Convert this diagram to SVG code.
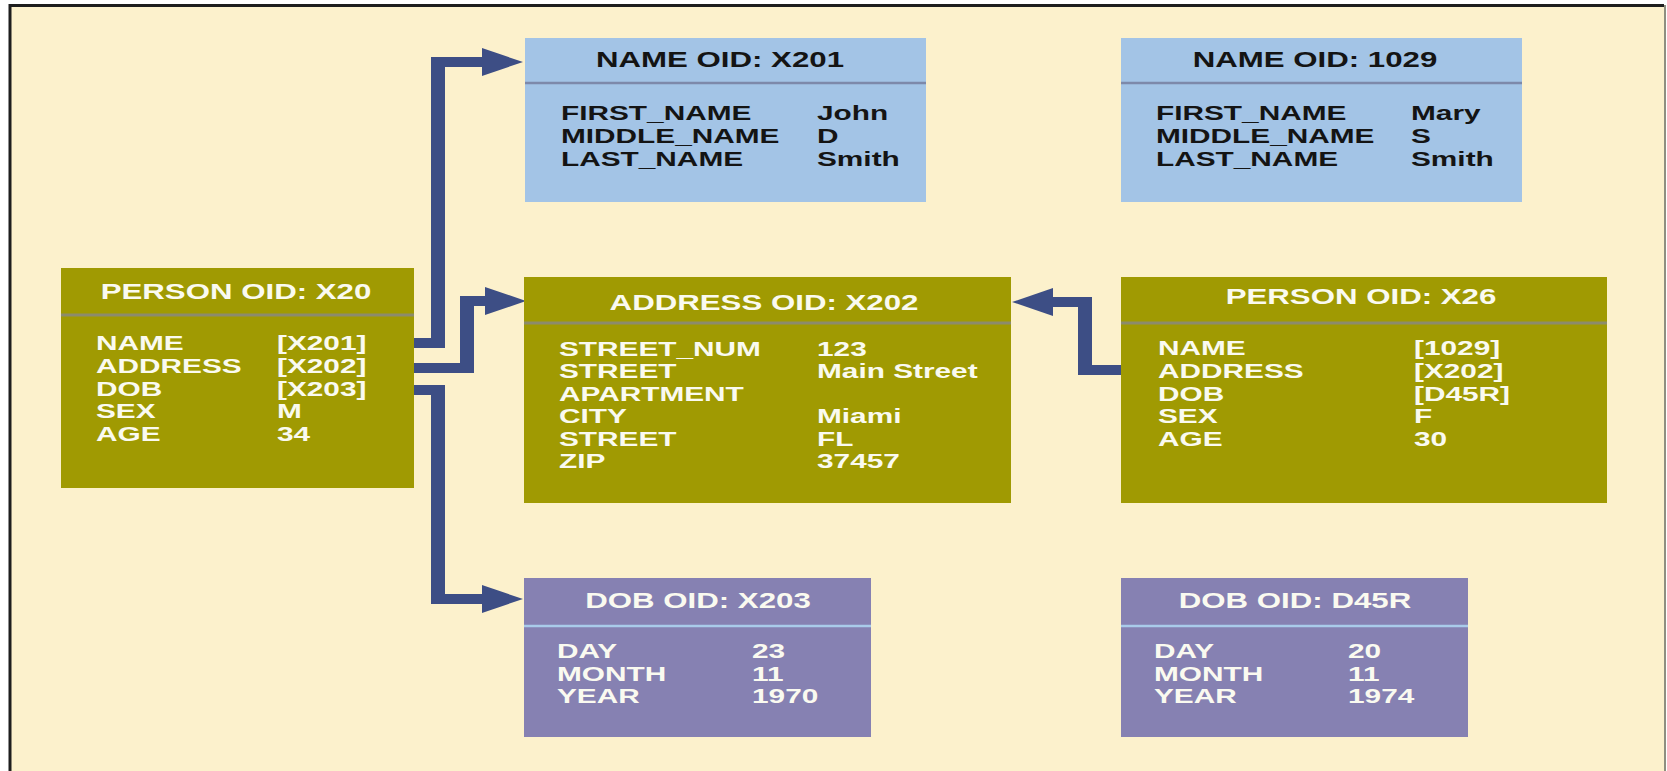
<svg xmlns="http://www.w3.org/2000/svg" width="1667" height="771" viewBox="0 0 1667 771">
  <style>
    .panel { fill: #FCF1CC; }
    .edge-dark { stroke: #1E1E1E; stroke-width: 3; fill: none; }
    .edge-light { stroke: #8F8F80; stroke-width: 2; fill: none; }
    .box-name { fill: #A3C4E6; }
    .box-person { fill: #A09A02; }
    .box-dob { fill: #8681B2; }
    .sep-name { stroke: #7D89AA; stroke-width: 2.5; }
    .sep-person { stroke: #8C8B6C; stroke-width: 3; }
    .sep-dob { stroke: #A9CBEA; stroke-width: 2.5; }
    text { font-family: "Liberation Sans", Arial, sans-serif; font-weight: bold; }
    .title { font-size: 22px; text-anchor: middle; }
    .row { font-size: 21px; }
    .dark { fill: #141414; }
    .light { fill: #FAFAF0; }
    .link { fill: #3D4E85; }
  </style>
  <defs>
    <path id="head-right" d="M0,-14 L41,0 L0,14 Z"/>
    <path id="head-left" d="M0,-14 L-41,0 L0,14 Z"/>
  </defs>

  <!-- page frame -->
  <rect x="0" y="0" width="1667" height="771" fill="#FFFFFF"/>
  <rect class="panel" x="10" y="5" width="1655" height="770"/>
  <path class="edge-dark" d="M10,775 V5.5 H1664"/>
  <line class="edge-light" x1="1665" y1="5" x2="1665" y2="771"/>

  <!-- connectors -->
  <g id="connectors">
    <g id="x20-name-to-x201">
      <path class="link" d="M414,338 H431 V57 H484 V67 H445 V348 H414 Z"/>
      <use class="link" href="#head-right" x="482" y="62"/>
    </g>
    <g id="x20-address-to-x202">
      <path class="link" d="M414,363 H460 V296 H488 V306 H474 V373 H414 Z"/>
      <use class="link" href="#head-right" x="485" y="301"/>
    </g>
    <g id="x20-dob-to-x203">
      <path class="link" d="M414,385 H445 V594 H485 V604 H431 V395 H414 Z"/>
      <use class="link" href="#head-right" x="482" y="599"/>
    </g>
    <g id="x26-address-to-x202">
      <path class="link" d="M1121,365 H1092 V297 H1050 V307 H1078 V375 H1121 Z"/>
      <use class="link" href="#head-left" x="1053" y="302"/>
    </g>
  </g>

  <!-- NAME OID: X201 -->
  <g id="name-x201">
    <rect class="box-name" x="525" y="38" width="401" height="164"/>
    <line class="sep-name" x1="525" y1="83" x2="926" y2="83"/>
    <text class="title dark" transform="matrix(1.42 0 0 1 720 67)">NAME OID: X201</text>
    <g class="row dark">
      <text transform="matrix(1.42 0 0 1 561 120)">FIRST_NAME</text>
      <text transform="matrix(1.42 0 0 1 817 120)">John</text>
      <text transform="matrix(1.42 0 0 1 561 143)">MIDDLE_NAME</text>
      <text transform="matrix(1.42 0 0 1 817 143)">D</text>
      <text transform="matrix(1.42 0 0 1 561 166)">LAST_NAME</text>
      <text transform="matrix(1.42 0 0 1 817 166)">Smith</text>
    </g>
  </g>

  <!-- NAME OID: 1029 -->
  <g id="name-1029">
    <rect class="box-name" x="1121" y="38" width="401" height="164"/>
    <line class="sep-name" x1="1121" y1="83" x2="1522" y2="83"/>
    <text class="title dark" transform="matrix(1.42 0 0 1 1315 67)">NAME OID: 1029</text>
    <g class="row dark">
      <text transform="matrix(1.42 0 0 1 1156 120)">FIRST_NAME</text>
      <text transform="matrix(1.42 0 0 1 1411 120)">Mary</text>
      <text transform="matrix(1.42 0 0 1 1156 143)">MIDDLE_NAME</text>
      <text transform="matrix(1.42 0 0 1 1411 143)">S</text>
      <text transform="matrix(1.42 0 0 1 1156 166)">LAST_NAME</text>
      <text transform="matrix(1.42 0 0 1 1411 166)">Smith</text>
    </g>
  </g>

  <!-- PERSON OID: X20 -->
  <g id="person-x20">
    <rect class="box-person" x="61" y="268" width="353" height="220"/>
    <line class="sep-person" x1="61" y1="315" x2="414" y2="315"/>
    <text class="title light" transform="matrix(1.42 0 0 1 236 299)">PERSON OID: X20</text>
    <g class="row light">
      <text transform="matrix(1.42 0 0 1 96 350)">NAME</text>
      <text transform="matrix(1.42 0 0 1 277 350)">[X201]</text>
      <text transform="matrix(1.42 0 0 1 96 373)">ADDRESS</text>
      <text transform="matrix(1.42 0 0 1 277 373)">[X202]</text>
      <text transform="matrix(1.42 0 0 1 96 396)">DOB</text>
      <text transform="matrix(1.42 0 0 1 277 396)">[X203]</text>
      <text transform="matrix(1.42 0 0 1 96 418)">SEX</text>
      <text transform="matrix(1.42 0 0 1 277 418)">M</text>
      <text transform="matrix(1.42 0 0 1 96 441)">AGE</text>
      <text transform="matrix(1.42 0 0 1 277 441)">34</text>
    </g>
  </g>

  <!-- ADDRESS OID: X202 -->
  <g id="address-x202">
    <rect class="box-person" x="524" y="277" width="487" height="226"/>
    <line class="sep-person" x1="524" y1="323" x2="1011" y2="323"/>
    <text class="title light" transform="matrix(1.42 0 0 1 764 310)">ADDRESS OID: X202</text>
    <g class="row light">
      <text transform="matrix(1.42 0 0 1 559 356)">STREET_NUM</text>
      <text transform="matrix(1.42 0 0 1 817 356)">123</text>
      <text transform="matrix(1.42 0 0 1 559 378)">STREET</text>
      <text transform="matrix(1.42 0 0 1 817 378)">Main Street</text>
      <text transform="matrix(1.42 0 0 1 559 401)">APARTMENT</text>
      <text transform="matrix(1.42 0 0 1 559 423)">CITY</text>
      <text transform="matrix(1.42 0 0 1 817 423)">Miami</text>
      <text transform="matrix(1.42 0 0 1 559 446)">STREET</text>
      <text transform="matrix(1.42 0 0 1 817 446)">FL</text>
      <text transform="matrix(1.42 0 0 1 559 468)">ZIP</text>
      <text transform="matrix(1.42 0 0 1 817 468)">37457</text>
    </g>
  </g>

  <!-- PERSON OID: X26 -->
  <g id="person-x26">
    <rect class="box-person" x="1121" y="277" width="486" height="226"/>
    <line class="sep-person" x1="1121" y1="323" x2="1607" y2="323"/>
    <text class="title light" transform="matrix(1.42 0 0 1 1361 304)">PERSON OID: X26</text>
    <g class="row light">
      <text transform="matrix(1.42 0 0 1 1158 355)">NAME</text>
      <text transform="matrix(1.42 0 0 1 1414 355)">[1029]</text>
      <text transform="matrix(1.42 0 0 1 1158 378)">ADDRESS</text>
      <text transform="matrix(1.42 0 0 1 1414 378)">[X202]</text>
      <text transform="matrix(1.42 0 0 1 1158 401)">DOB</text>
      <text transform="matrix(1.42 0 0 1 1414 401)">[D45R]</text>
      <text transform="matrix(1.42 0 0 1 1158 423)">SEX</text>
      <text transform="matrix(1.42 0 0 1 1414 423)">F</text>
      <text transform="matrix(1.42 0 0 1 1158 446)">AGE</text>
      <text transform="matrix(1.42 0 0 1 1414 446)">30</text>
    </g>
  </g>

  <!-- DOB OID: X203 -->
  <g id="dob-x203">
    <rect class="box-dob" x="524" y="578" width="347" height="159"/>
    <line class="sep-dob" x1="524" y1="626" x2="871" y2="626"/>
    <text class="title light" transform="matrix(1.42 0 0 1 698 608)">DOB OID: X203</text>
    <g class="row light">
      <text transform="matrix(1.42 0 0 1 557 658)">DAY</text>
      <text transform="matrix(1.42 0 0 1 752 658)">23</text>
      <text transform="matrix(1.42 0 0 1 557 681)">MONTH</text>
      <text transform="matrix(1.42 0 0 1 752 681)">11</text>
      <text transform="matrix(1.42 0 0 1 557 703)">YEAR</text>
      <text transform="matrix(1.42 0 0 1 752 703)">1970</text>
    </g>
  </g>

  <!-- DOB OID: D45R -->
  <g id="dob-d45r">
    <rect class="box-dob" x="1121" y="578" width="347" height="159"/>
    <line class="sep-dob" x1="1121" y1="626" x2="1468" y2="626"/>
    <text class="title light" transform="matrix(1.42 0 0 1 1295 608)">DOB OID: D45R</text>
    <g class="row light">
      <text transform="matrix(1.42 0 0 1 1154 658)">DAY</text>
      <text transform="matrix(1.42 0 0 1 1348 658)">20</text>
      <text transform="matrix(1.42 0 0 1 1154 681)">MONTH</text>
      <text transform="matrix(1.42 0 0 1 1348 681)">11</text>
      <text transform="matrix(1.42 0 0 1 1154 703)">YEAR</text>
      <text transform="matrix(1.42 0 0 1 1348 703)">1974</text>
    </g>
  </g>
</svg>
